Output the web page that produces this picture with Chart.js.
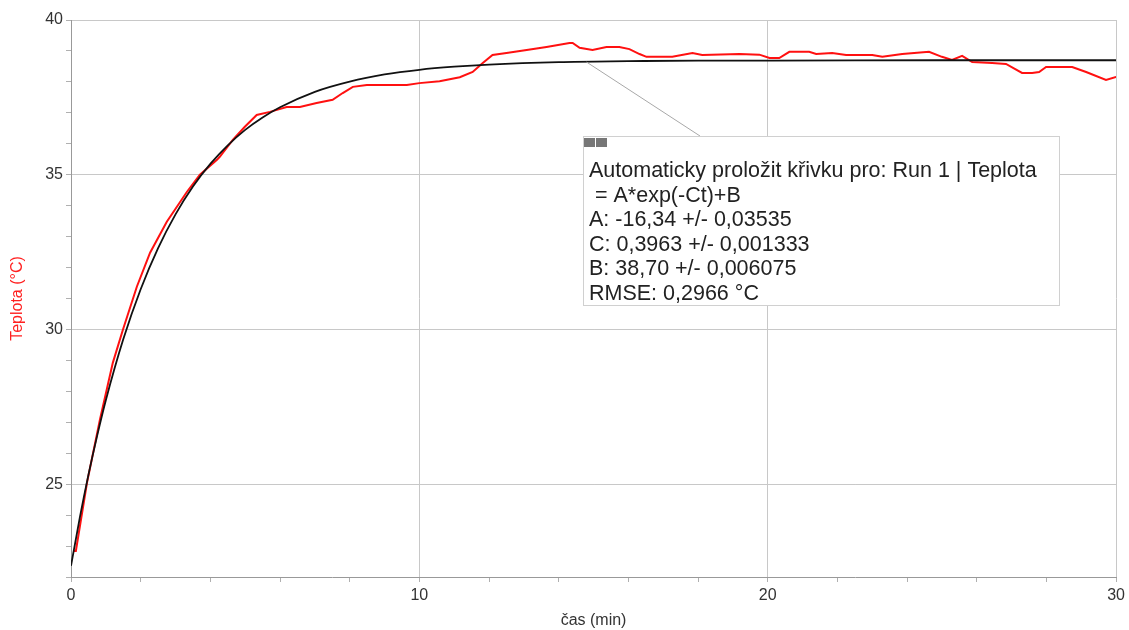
<!DOCTYPE html>
<html>
<head>
<meta charset="utf-8">
<script src="https://cdn.jsdelivr.net/npm/chart.js@4/dist/chart.umd.min.js"></script>
<style>
  html, body { margin: 0; padding: 0; background: #fff; }
  #wrap { width: 1129px; height: 630px; position: relative; }
</style>
</head>
<body>
<div id="wrap"><canvas id="chart" width="1129" height="630"></canvas></div>
<script>
// measured temperature (Run 1 | Teplota)
const runTime = [0.06, 0.14, 0.46, 0.83, 1.2, 1.49, 1.89, 2.27, 2.75, 3.33, 3.7, 4.19, 4.27, 4.65, 4.99, 5.33, 5.71, 6.19, 6.57, 7.05, 7.51, 7.8, 8.09, 8.49, 9.64, 10.0, 10.58, 11.16, 11.53, 11.82, 12.1, 12.5, 13.08, 13.65, 14.31, 14.4, 14.6, 14.97, 15.37, 15.74, 16.03, 16.32, 16.52, 17.26, 17.84, 18.12, 19.19, 19.76, 20.05, 20.33, 20.62, 21.19, 21.39, 21.85, 22.25, 23.0, 23.29, 23.86, 24.63, 25.0, 25.29, 25.58, 25.87, 26.44, 26.84, 27.3, 27.59, 27.79, 27.99, 28.74, 29.14, 29.71, 30.0];
const runTemp = [22.84, 22.84, 25.05, 27.08, 28.92, 29.99, 31.38, 32.48, 33.48, 34.45, 35.0, 35.48, 35.58, 36.13, 36.55, 36.93, 37.03, 37.19, 37.19, 37.32, 37.42, 37.64, 37.84, 37.9, 37.9, 37.96, 38.02, 38.15, 38.32, 38.61, 38.87, 38.93, 39.03, 39.13, 39.26, 39.26, 39.1, 39.03, 39.13, 39.13, 39.06, 38.9, 38.81, 38.81, 38.93, 38.87, 38.9, 38.88, 38.77, 38.77, 38.97, 38.97, 38.9, 38.93, 38.87, 38.87, 38.81, 38.9, 38.97, 38.81, 38.71, 38.84, 38.64, 38.61, 38.58, 38.29, 38.29, 38.32, 38.48, 38.48, 38.32, 38.06, 38.16];

// fitted curve
const fitTime = [0, 0.25, 0.5, 0.75, 1, 1.5, 2, 2.5, 3, 3.5, 4, 4.5, 5, 5.5, 6, 7, 8, 9, 10, 11, 12, 14, 16, 18, 20, 25, 30];
const fitTemp = [22.36, 23.90, 25.30, 26.56, 27.71, 29.68, 31.30, 32.63, 33.72, 34.62, 35.35, 35.95, 36.45, 36.85, 37.18, 37.68, 38.01, 38.24, 38.39, 38.49, 38.56, 38.64, 38.67, 38.69, 38.69, 38.70, 38.70];

const xMajor = 10;
const yMajor = 5;

const noteAnchor = [14.8, 38.64];
const noteLines = [
    'Automaticky proložit křivku pro: Run 1 | Teplota',
    ' = A*exp(-Ct)+B',
    'A: -16,34 +/- 0,03535',
    'C: 0,3963 +/- 0,001333',
    'B: 38,70 +/- 0,006075',
    'RMSE: 0,2966 °C'
];

const FONT = '"Liberation Sans", Arial, sans-serif';
const toPoints = (xs, ys) => xs.map((t, i) => ({ x: t, y: ys[i] }));

// fit info box with its leader line
const notePlugin = {
    id: 'fitNote',
    afterDraw(chart) {
        const { ctx, scales } = chart;
        const box = { x: 583, y: 136, w: 476, h: 169 };
        ctx.save();
        ctx.strokeStyle = '#a8a8a8';
        ctx.lineWidth = 1;
        ctx.beginPath();
        ctx.moveTo(scales.x.getPixelForValue(noteAnchor[0]), scales.y.getPixelForValue(noteAnchor[1]));
        ctx.lineTo(700, box.y);
        ctx.stroke();

        ctx.fillStyle = '#fff';
        ctx.fillRect(box.x, box.y, box.w, box.h);
        ctx.strokeStyle = '#d0d0d0';
        ctx.strokeRect(box.x + 0.5, box.y + 0.5, box.w, box.h);

        ctx.fillStyle = '#777';
        ctx.fillRect(box.x + 1, box.y + 2, 11, 9);
        ctx.fillRect(box.x + 13, box.y + 2, 11, 9);

        ctx.fillStyle = '#222';
        ctx.font = '21.5px ' + FONT;
        ctx.textBaseline = 'alphabetic';
        noteLines.forEach((line, i) => {
            ctx.fillText(line, box.x + 6, 177 + i * 24.6);
        });
        ctx.restore();
    }
};

new Chart(document.getElementById('chart'), {
    type: 'line',
    data: {
        datasets: [
            {
                label: 'fit',
                data: toPoints(fitTime, fitTemp),
                borderColor: '#111',
                borderWidth: 1.8,
                pointRadius: 0,
                cubicInterpolationMode: 'monotone',
                order: 0
            },
            {
                label: 'Teplota',
                data: toPoints(runTime, runTemp),
                borderColor: '#ff1010',
                borderWidth: 2,
                pointRadius: 0,
                tension: 0,
                order: 1
            }
        ]
    },
    options: {
        responsive: false,
        animation: false,
        layout: { padding: { top: 20, right: 12, left: 0, bottom: 0 } },
        plugins: {
            legend: { display: false },
            tooltip: { enabled: false }
        },
        scales: {
            x: {
                type: 'linear',
                min: 0,
                max: 30,
                afterFit: (scale) => { scale.height = 53; },
                ticks: {
                    stepSize: 2,
                    autoSkip: false,
                    maxRotation: 0,
                    padding: 4,
                    color: '#333',
                    font: { family: FONT, size: 16 },
                    callback: (v) => (v % xMajor === 0 ? v : '')
                },
                grid: {
                    color: (c) => (c.tick && c.tick.value % xMajor === 0 ? '#c8c8c8' : 'rgba(0,0,0,0)'),
                    tickColor: '#b0b0b0',
                    tickLength: 5,
                    lineWidth: 1
                },
                border: { color: '#999', width: 1 },
                title: {
                    display: true,
                    text: 'čas (min)',
                    color: '#333',
                    font: { family: FONT, size: 16 },
                    padding: { top: 0, bottom: 0 }
                }
            },
            y: {
                type: 'linear',
                min: 22,
                max: 40,
                afterFit: (scale) => { scale.width = 71; },
                ticks: {
                    stepSize: 1,
                    autoSkip: false,
                    padding: 3,
                    color: '#333',
                    font: { family: FONT, size: 16 },
                    callback: (v) => (v % yMajor === 0 ? v : '')
                },
                grid: {
                    color: (c) => (c.tick && c.tick.value % yMajor === 0 ? '#c8c8c8' : 'rgba(0,0,0,0)'),
                    tickColor: '#b0b0b0',
                    tickLength: 5,
                    lineWidth: 1
                },
                border: { color: '#999', width: 1 },
                title: {
                    display: true,
                    text: 'Teplota (°C)',
                    color: '#ff2020',
                    font: { family: FONT, size: 16 },
                    padding: { top: 8, bottom: 0 }
                }
            }
        }
    },
    plugins: [notePlugin]
});
</script>
</body>
</html>
